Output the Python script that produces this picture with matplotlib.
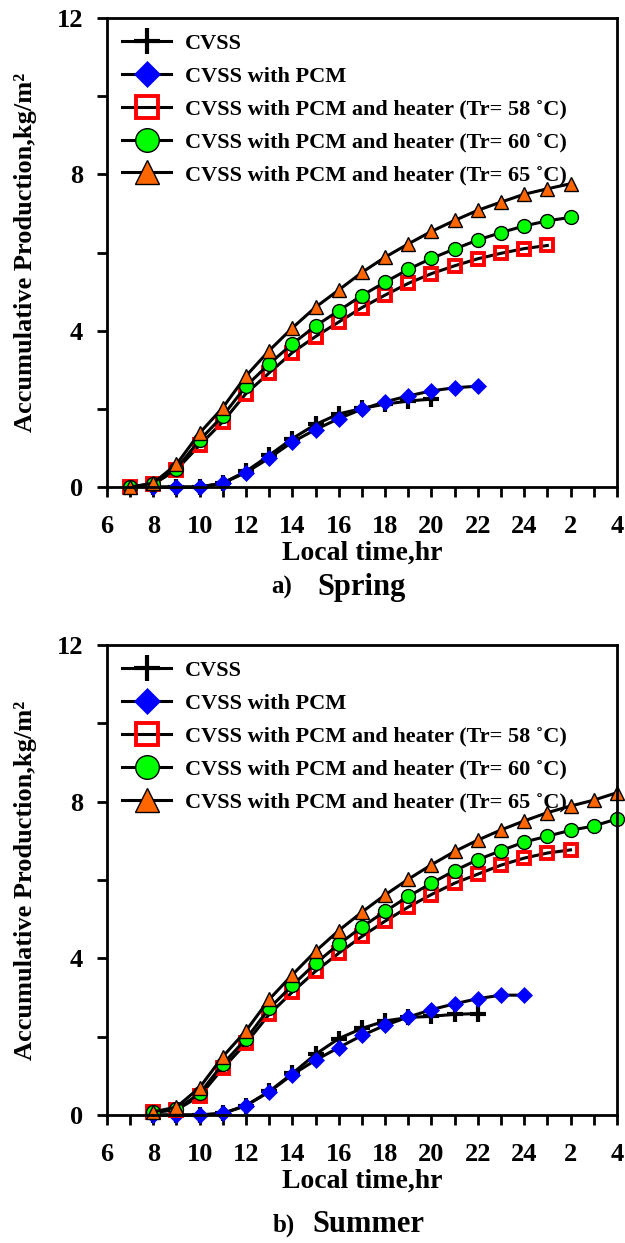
import matplotlib
matplotlib.use("Agg")
import matplotlib.pyplot as plt
from matplotlib.ticker import MultipleLocator

plt.rcParams['font.family'] = ['Liberation Serif', 'DejaVu Serif']
plt.rcParams['font.weight'] = 'bold'

# Spring data (hour of day, values after midnight as 25, 26 ...)
sp_cvss_t = [8, 9, 10, 11, 12, 13, 14, 15, 16, 17, 18, 19, 20]
sp_cvss = [0, 0, 0, 0.1, 0.4, 0.81, 1.24, 1.6, 1.87, 2.01, 2.12, 2.2, 2.25]
sp_pcm_t = [8, 9, 10, 11, 12, 13, 14, 15, 16, 17, 18, 19, 20, 21, 22]
sp_pcm = [0, 0, 0, 0.1, 0.37, 0.74, 1.15, 1.47, 1.75, 1.99, 2.18, 2.33, 2.46, 2.54, 2.58]
sp_h58_t = list(range(7, 26))
sp_h58 = [0, 0.07, 0.44, 1.07, 1.67, 2.39, 2.92, 3.44, 3.85, 4.22, 4.59, 4.91, 5.21,
          5.46, 5.66, 5.84, 5.98, 6.1, 6.18]
sp_h60_t = list(range(7, 27))
sp_h60 = [0, 0.08, 0.47, 1.2, 1.82, 2.58, 3.15, 3.66, 4.12, 4.51, 4.9, 5.24, 5.57,
          5.85, 6.09, 6.32, 6.51, 6.68, 6.81, 6.9]
sp_h65_t = list(range(7, 27))
sp_h65 = [0, 0.1, 0.58, 1.38, 2.03, 2.84, 3.49, 4.07, 4.6, 5.04, 5.49, 5.88, 6.22,
          6.54, 6.82, 7.08, 7.29, 7.49, 7.63, 7.76]

# Summer data
su_cvss_t = list(range(8, 23))
su_cvss = [0, 0, 0, 0.04, 0.24, 0.6, 1.06, 1.55, 1.95, 2.21, 2.4, 2.49, 2.52, 2.57, 2.59]
su_pcm_t = list(range(8, 25))
su_pcm = [0, 0, 0, 0.04, 0.24, 0.59, 1.03, 1.4, 1.72, 2.03, 2.29, 2.5, 2.69, 2.84,
          2.97, 3.06, 3.06]
su_h58_t = list(range(8, 27))
su_h58 = [0.07, 0.13, 0.48, 1.19, 1.83, 2.57, 3.14, 3.67, 4.13, 4.56, 4.95, 5.31,
          5.63, 5.92, 6.15, 6.38, 6.56, 6.69, 6.77]
su_h60_t = list(range(8, 29))
su_h60 = [0.07, 0.14, 0.55, 1.3, 1.94, 2.72, 3.31, 3.87, 4.36, 4.8, 5.2, 5.58, 5.92,
          6.24, 6.52, 6.75, 6.97, 7.12, 7.27, 7.38, 7.56]
su_h65_t = list(range(8, 29))
su_h65 = [0.08, 0.2, 0.7, 1.49, 2.15, 2.95, 3.58, 4.18, 4.71, 5.18, 5.62, 6.02, 6.39,
          6.73, 7.02, 7.28, 7.51, 7.72, 7.89, 8.04, 8.23]

labels = ['CVSS', 'CVSS with PCM',
          'CVSS with PCM and heater (Tr= 58 \u02daC)',
          'CVSS with PCM and heater (Tr= 60 \u02daC)',
          'CVSS with PCM and heater (Tr= 65 \u02daC)']
xticks = list(range(6, 29, 2))
xticklabels = ['6', '8', '10', '12', '14', '16', '18', '20', '22', '24', '2', '4']
yticks = [0, 4, 8, 12]

fig = plt.figure(figsize=(6.25, 12.43), dpi=100)


def panel(ax, series):
    styles = [
        dict(marker='+', ms=11, mew=3, mfc='k', mec='k'),
        dict(marker='D', ms=8, mew=0.5, mfc='#0000ff', mec='#0000ff'),
        dict(marker='s', ms=9, mew=2.8, mfc='none', mec='#ff0000'),
        dict(marker='o', ms=10, mew=1, mfc='#00ff00', mec='k'),
        dict(marker='^', ms=10, mew=1, mfc='#ff6600', mec='k'),
    ]
    for (t, v), st, lab in zip(series, styles, labels):
        ax.plot(t, v, color='k', lw=2.2, label=lab, clip_on=False, **st)
    ax.set_xlim(6, 28)
    ax.set_ylim(0, 12)
    ax.set_xticks(xticks)
    ax.set_xticklabels(xticklabels)
    ax.xaxis.set_minor_locator(MultipleLocator(1))
    ax.set_yticks(yticks)
    ax.yaxis.set_minor_locator(MultipleLocator(2))
    ax.tick_params(which='both', direction='out', width=2, length=7)
    ax.tick_params(axis='x', which='major', pad=13, labelsize=19)
    ax.tick_params(axis='y', which='major', pad=10, labelsize=19)
    for s in ax.spines.values():
        s.set_linewidth(2)
    ax.set_xlabel('Local time,hr', fontsize=20, fontweight='bold', labelpad=2)
    ax.set_ylabel('Accumulative Production,kg/m\u00b2', fontsize=19,
                  fontweight='bold', labelpad=14)
    leg = ax.legend(loc='upper left', frameon=False, fontsize=16, markerscale=1.7,
                    handlelength=2.2, labelspacing=0.55, borderaxespad=0.3,
                    handletextpad=0.6)
    return leg


ax1 = fig.add_axes([0.171, 0.6082, 0.816, 0.3773])
panel(ax1, [(sp_cvss_t, sp_cvss), (sp_pcm_t, sp_pcm), (sp_h58_t, sp_h58),
            (sp_h60_t, sp_h60), (sp_h65_t, sp_h65)])

ax2 = fig.add_axes([0.171, 0.103, 0.816, 0.378])
panel(ax2, [(su_cvss_t, su_cvss), (su_pcm_t, su_pcm), (su_h58_t, su_h58),
            (su_h60_t, su_h60), (su_h65_t, su_h65)])

fig.text(0.467, 0.527, 'a)', fontsize=18, fontweight='bold', ha='right', va='center')
fig.text(0.508, 0.527, 'Spring', fontsize=22, fontweight='bold', ha='left', va='center')
fig.text(0.472, 0.0145, 'b)', fontsize=18, fontweight='bold', ha='right', va='center')
fig.text(0.500, 0.0145, 'Summer', fontsize=22, fontweight='bold', ha='left', va='center')

fig.savefig('out.png', dpi=100)
